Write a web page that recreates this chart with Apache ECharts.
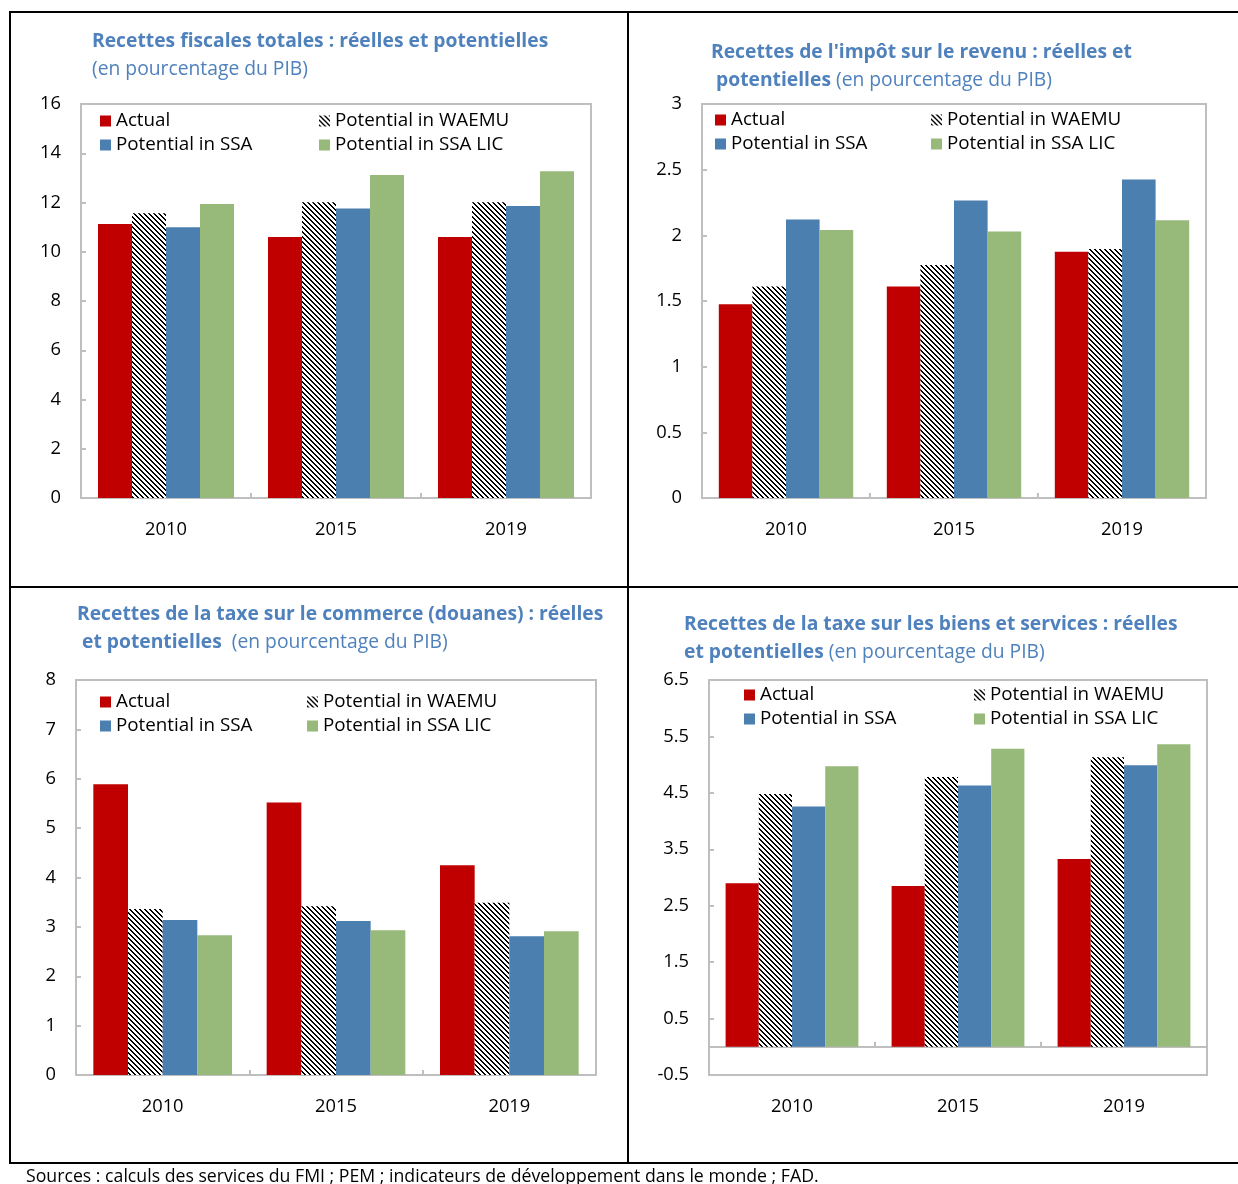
<!DOCTYPE html>
<html>
<head>
<meta charset="utf-8">
<script src="https://cdn.jsdelivr.net/npm/echarts@6/dist/echarts.min.js"></script>
<style>
html,body{margin:0;padding:0;background:#fff;}
#c{width:1238px;height:1184px;}
</style>
</head>
<body>
<div id="c"></div>
<script>
// ---------- data ----------
const years = ['2010', '2015', '2019'];
const seriesNames = ['Actual', 'Potential in WAEMU', 'Potential in SSA', 'Potential in SSA LIC'];

// Recettes fiscales totales
const totalActual = [11.13, 10.60, 10.60];
const totalWAEMU  = [11.56, 12.01, 12.01];
const totalSSA    = [10.99, 11.76, 11.86];
const totalLIC    = [11.94, 13.12, 13.27];

// Impôt sur le revenu
const incomeActual = [1.475, 1.61, 1.875];
const incomeWAEMU  = [1.61, 1.775, 1.895];
const incomeSSA    = [2.12, 2.265, 2.425];
const incomeLIC    = [2.04, 2.03, 2.115];

// Taxe sur le commerce (douanes)
const tradeActual = [5.89, 5.52, 4.25];
const tradeWAEMU  = [3.36, 3.42, 3.49];
const tradeSSA    = [3.14, 3.12, 2.81];
const tradeLIC    = [2.83, 2.93, 2.91];

// Taxe sur les biens et services
const goodsActual = [2.90, 2.85, 3.33];
const goodsWAEMU  = [4.48, 4.78, 5.13];
const goodsSSA    = [4.26, 4.63, 4.99];
const goodsLIC    = [4.97, 5.28, 5.36];

// axis ranges
const yRanges = [
  {min: 0, max: 16, interval: 2},
  {min: 0, max: 3, interval: 0.5},
  {min: 0, max: 8, interval: 1},
  {min: -0.5, max: 6.5, interval: 1}
];

const titles = [
  '{b|Recettes fiscales totales : réelles et potentielles}\n{n|(en pourcentage du PIB)}',
  "{b|Recettes de l'impôt sur le revenu : réelles et}\n{b| potentielles} {n|(en pourcentage du PIB)}",
  '{b|Recettes de la taxe sur le commerce (douanes) : réelles}\n{b| et potentielles}{n|  (en pourcentage du PIB)}',
  '{b|Recettes de la taxe sur les biens et services : réelles}\n{b|et potentielles}{n| (en pourcentage du PIB)}'
];
const footer = 'Sources : calculs des services du FMI ; PEM ; indicateurs de développement dans le monde ; FAD.';

// ---------- styles / layout ----------
const FONT = '"Open Sans", "Noto Sans", sans-serif';
const TITLE_COLOR = '#4f81bd';
const RED = '#c00000', BLUE = '#4a7fb0', GREEN = '#97b97a';
const GRID_GRAY = '#bfbfbf';

function hatch() {
  const n = 5;
  const cv = document.createElement('canvas');
  cv.width = n; cv.height = n;
  const ctx = cv.getContext('2d');
  ctx.fillStyle = '#fff'; ctx.fillRect(0, 0, n, n);
  ctx.fillStyle = '#000';
  for (let y = 0; y < n; y++) {
    ctx.fillRect(y % n, y, 1, 1);
    ctx.fillRect((y + 1) % n, y, 1, 1);
  }
  return {image: cv, repeat: 'repeat'};
}
const HATCH = hatch();

const grids = [
  {left: 81, top: 104, width: 510, height: 394},
  {left: 702, top: 104, width: 504, height: 394},
  {left: 76, top: 680, width: 520, height: 395},
  {left: 709, top: 680, width: 498, height: 395}
];
const titlePos = [
  {left: 92, top: 28}, {left: 711, top: 39}, {left: 77, top: 601}, {left: 684, top: 611}
];
const legendPos = [
  {a: 100, b: 319, top: 111},
  {a: 715, b: 931, top: 110},
  {a: 100, b: 307, top: 692},
  {a: 744, b: 974, top: 685}
];

const dataSets = [
  [totalActual, totalWAEMU, totalSSA, totalLIC],
  [incomeActual, incomeWAEMU, incomeSSA, incomeLIC],
  [tradeActual, tradeWAEMU, tradeSSA, tradeLIC],
  [goodsActual, goodsWAEMU, goodsSSA, goodsLIC]
];
const colors = [RED, HATCH, BLUE, GREEN];

const option = {
  backgroundColor: '#fff',
  animation: false,
  title: titles.map((t, i) => ({
    text: t, left: titlePos[i].left, top: titlePos[i].top, padding: 0,
    textStyle: {
      rich: {
        b: {fontFamily: FONT, fontWeight: 'bold', fontSize: 19.3, color: TITLE_COLOR, lineHeight: 28},
        n: {fontFamily: FONT, fontWeight: 'normal', fontSize: 19.3, color: TITLE_COLOR, lineHeight: 28}
      }
    }
  })),
  legend: [],
  grid: grids.map(g => Object.assign({show: true, borderColor: GRID_GRAY, borderWidth: 2, backgroundColor: 'transparent'}, g)),
  xAxis: grids.map((g, i) => ({
    type: 'category', gridIndex: i, data: years,
    axisLine: {show: true, lineStyle: {color: GRID_GRAY, width: 2}},
    axisTick: {show: true, inside: true, length: 5, lineStyle: {color: GRID_GRAY, width: 2}},
    axisLabel: {fontFamily: FONT, fontSize: 18.3, color: '#000', margin: 23},
    splitLine: {show: false}
  })),
  yAxis: grids.map((g, i) => ({
    type: 'value', gridIndex: i,
    min: yRanges[i].min, max: yRanges[i].max, interval: yRanges[i].interval,
    axisLine: {show: true, lineStyle: {color: GRID_GRAY, width: 2}},
    axisTick: {show: true, inside: true, length: 5, lineStyle: {color: GRID_GRAY, width: 2}},
    axisLabel: {fontFamily: FONT, fontSize: 18.3, color: '#000', margin: 20},
    splitLine: {show: false}
  })),
  series: [],
  graphic: [
    {type: 'line', shape: {x1: 9, y1: 12, x2: 1238, y2: 12}, style: {stroke: '#000', lineWidth: 2}},
    {type: 'line', shape: {x1: 10, y1: 11, x2: 10, y2: 1164}, style: {stroke: '#000', lineWidth: 2}},
    {type: 'line', shape: {x1: 628, y1: 11, x2: 628, y2: 1164}, style: {stroke: '#000', lineWidth: 2}},
    {type: 'line', shape: {x1: 9, y1: 587, x2: 1238, y2: 587}, style: {stroke: '#000', lineWidth: 2}},
    {type: 'line', shape: {x1: 9, y1: 1163, x2: 1238, y2: 1163}, style: {stroke: '#000', lineWidth: 2}},
    {type: 'text', left: 26, top: 1168, style: {text: footer, fontFamily: FONT, fontSize: 17.7, fill: '#000'}}
  ]
};

legendPos.forEach((p, i) => {
  const common = {
    orient: 'vertical', top: p.top, padding: 0, itemGap: 4,
    itemWidth: 11, itemHeight: 11, icon: 'rect',
    textStyle: {fontFamily: FONT, fontSize: 18.8, color: '#000', lineHeight: 20}
  };
  option.legend.push(Object.assign({left: p.a, data: [seriesNames[0], seriesNames[2]]}, common));
  option.legend.push(Object.assign({left: p.b, data: [seriesNames[1], seriesNames[3]]}, common));
});

dataSets.forEach((set, i) => {
  set.forEach((vals, k) => {
    option.series.push({
      type: 'bar', name: seriesNames[k], xAxisIndex: i, yAxisIndex: i,
      data: vals, barGap: '0%', barCategoryGap: '20%',
      itemStyle: {color: colors[k]},
      emphasis: {disabled: true}
    });
  });
});

const chart = echarts.init(document.getElementById('c'), null, {renderer: 'canvas'});
chart.setOption(option);
</script>
</body>
</html>
